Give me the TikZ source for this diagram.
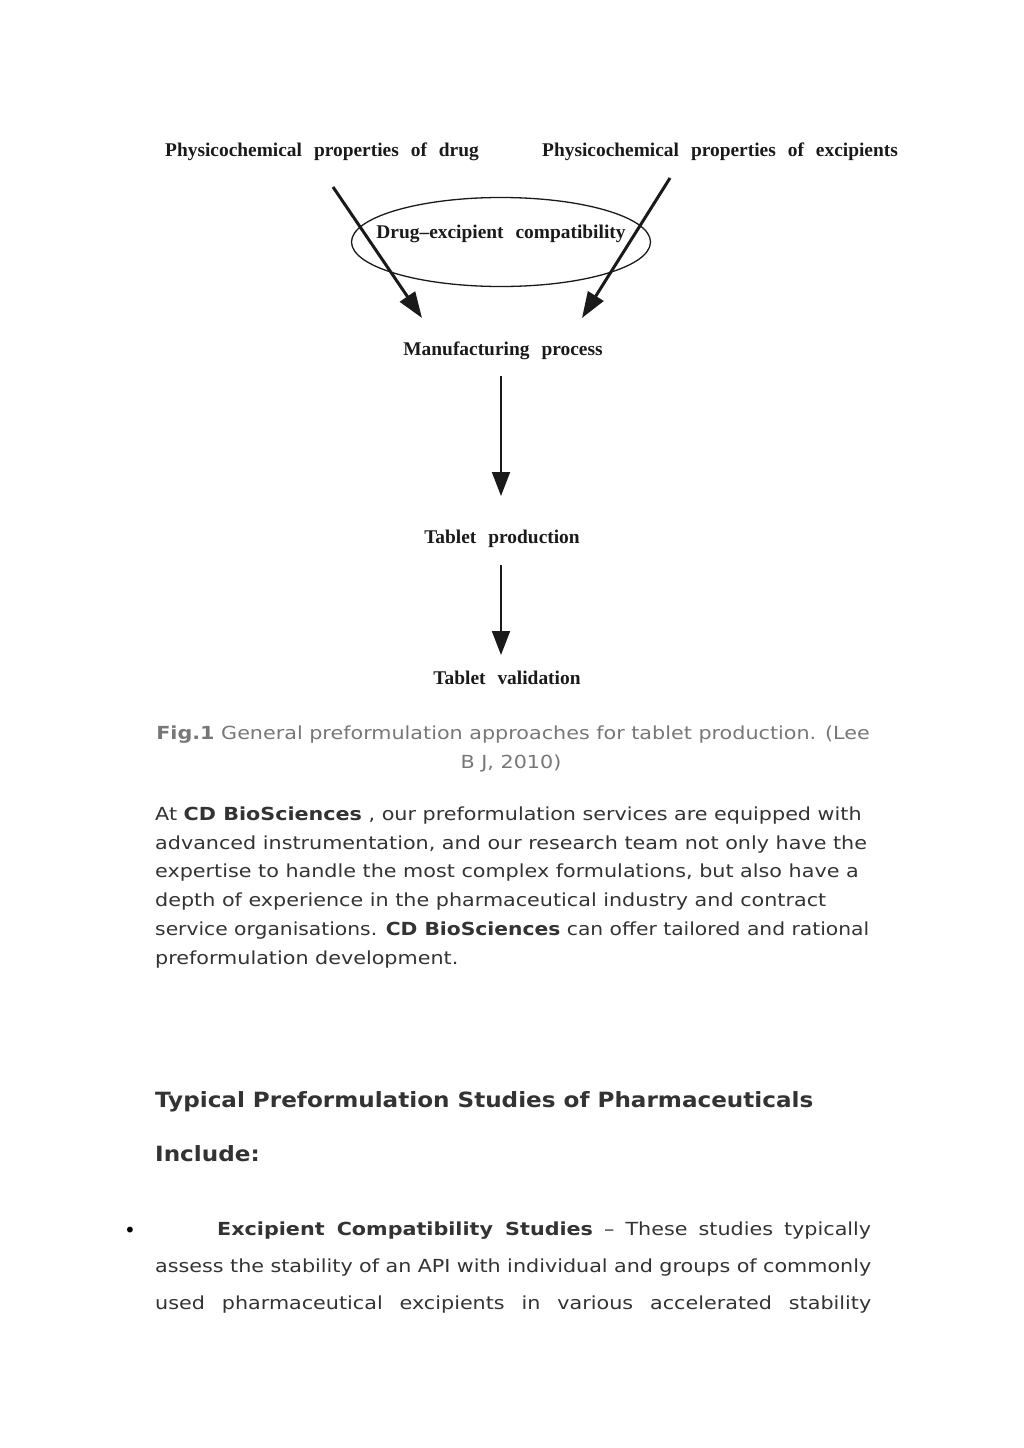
\documentclass[tikz,border=0pt]{standalone}
\usepackage{fontspec}
\usepackage{graphicx}
\setmainfont{DejaVu Sans}
\newfontfamily\diagfont{Liberation Serif}
\usetikzlibrary{arrows.meta,shapes.geometric}
\definecolor{bodytxt}{HTML}{333333}
\definecolor{captxt}{HTML}{777777}
\definecolor{diagtxt}{HTML}{1A1A1A}
\newcommand{\widetxt}[1]{\scalebox{1.15}[1]{#1}}
\newcommand{\wideh}[1]{\scalebox{1.10}[1]{#1}}
\tikzset{
  dlabel/.style={inner sep=0pt, text=diagtxt, font=\diagfont\bfseries\fontsize{19.4}{22}\selectfont, execute at begin node={\spaceskip=12pt\relax}},
  bodyline/.style={anchor=base west, inner sep=0pt, text=bodytxt, font=\fontsize{18}{22}\selectfont},
  capline/.style={anchor=base, inner sep=0pt, text=captxt, font=\fontsize{18}{22}\selectfont},
  headline/.style={anchor=base west, inner sep=0pt, text=bodytxt, font=\bfseries\fontsize{21}{26}\selectfont},
  fatarrow/.style={line width=3pt, -{Triangle[width=18pt,length=26pt]}, draw=diagtxt},
  thinarrow/.style={line width=1.8pt, -{Triangle[width=18pt,length=24pt]}, draw=diagtxt},
}
\begin{document}
\begin{tikzpicture}[x=1pt,y=-1pt]
\useasboundingbox[fill=white] (0,0) rectangle (1024,1448);
% diagram
\node[dlabel] (drug) at (322,152) {Physicochemical properties of drug};
\node[dlabel] (excip) at (720,152) {Physicochemical properties of excipients};
\node[draw=diagtxt, line width=1.3pt, ellipse, minimum width=299pt, minimum height=89pt, inner sep=0pt] (ell) at (501,242) {};
\node[dlabel] (compat) at (501,234) {Drug–excipient compatibility};
\node[dlabel] (manuf) at (503,351) {Manufacturing process};
\node[dlabel] (prod) at (502,539) {Tablet production};
\node[dlabel] (valid) at (507,678) {Tablet validation};
\coordinate (ls) at (333,187);
\coordinate (le) at (422,318);
\coordinate (rs) at (670,178);
\coordinate (re) at (582,318);
\coordinate (m1) at (501,376);
\coordinate (m2) at (501,496);
\coordinate (p1) at (501,565);
\coordinate (p2) at (501,655);
\draw[fatarrow] (ls) -- (le);
\draw[fatarrow] (rs) -- (re);
\draw[thinarrow] (m1) -- (m2);
\draw[thinarrow] (p1) -- (p2);
% caption
\node[capline] (cap1) at (513,739) {\widetxt{\textbf{Fig.1} General preformulation approaches for tablet production. (Lee}};
\node[capline] (cap2) at (511,768) {\widetxt{B J, 2010)}};
% paragraph
\node[bodyline] (b1) at (155,820) {\widetxt{At \textbf{CD BioSciences} , our preformulation services are equipped with}};
\node[bodyline] (b2) at (155,849) {\widetxt{advanced instrumentation, and our research team not only have the}};
\node[bodyline] (b3) at (155,877) {\widetxt{expertise to handle the most complex formulations, but also have a}};
\node[bodyline] (b4) at (155,906) {\widetxt{depth of experience in the pharmaceutical industry and contract}};
\node[bodyline] (b5) at (155,935) {\scalebox{1.126}[1]{service organisations. \textbf{CD BioSciences} can offer tailored and rational}};
\node[bodyline] (b6) at (155,964) {\widetxt{preformulation development.}};
% heading
\node[headline] (h1) at (155,1107) {\wideh{Typical Preformulation Studies of Pharmaceuticals}};
\node[headline] (h2) at (155,1161) {\wideh{Include:}};
% bullet
\node[bodyline, text=black] (bul) at (124,1237) {\fontsize{20}{22}\selectfont •};
\node[bodyline] (l1) at (217,1235) {\widetxt{\makebox[568.7pt][s]{\textbf{Excipient Compatibility Studies} – These studies typically}}};
\node[bodyline] (l2) at (155,1272) {\widetxt{\makebox[622.6pt][s]{assess the stability of an API with individual and groups of commonly}}};
\node[bodyline] (l3) at (155,1309) {\widetxt{\makebox[622.6pt][s]{used pharmaceutical excipients in various accelerated stability}}};
\end{tikzpicture}
\end{document}
